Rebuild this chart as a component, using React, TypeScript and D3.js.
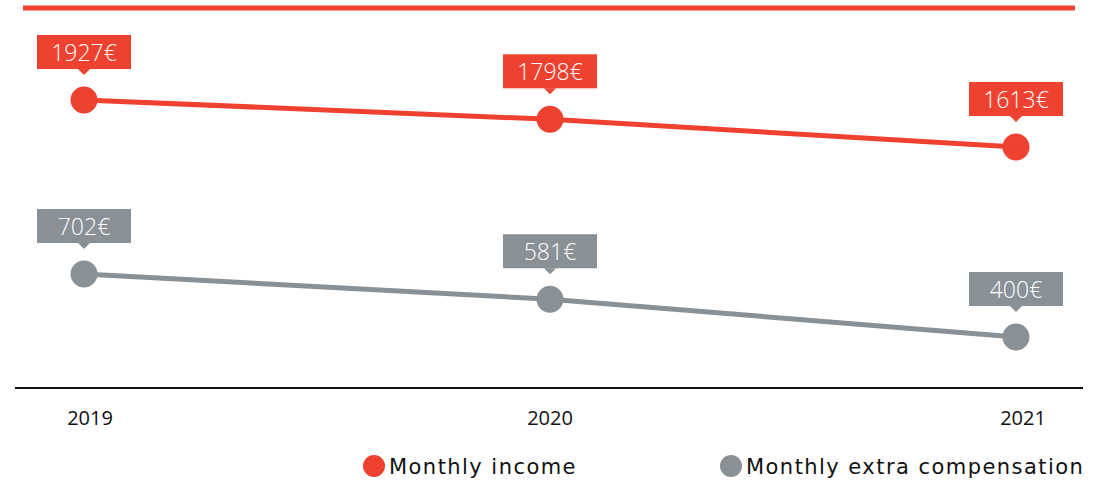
import React from "react";
import * as d3 from "d3";

const years = ["2019", "2020", "2021"];
const incomeValues = [1927, 1798, 1613];
const extraValues = [702, 581, 400];
const seriesNames = ["Monthly income", "Monthly extra compensation"];
const RED = "#EF4130";
const GRAY = "#899196";

const W = 1106;
const H = 480;

export default function App() {
  const x = d3.scalePoint<string>().domain(years).range([84, 1016]);
  const yIncome = d3.scaleLinear().domain([1613, 1927]).range([147, 100]);
  const yExtra = d3.scaleLinear().domain([400, 702]).range([337, 274]);

  const series = [
    { name: seriesNames[0], values: incomeValues, y: yIncome, color: RED },
    { name: seriesNames[1], values: extraValues, y: yExtra, color: GRAY },
  ];

  const boxW = 94;
  const boxH = 34;
  const gap = 31;

  return (
    <svg
      width={W}
      height={H}
      style={{ position: "absolute", left: 0, top: 0, display: "block" }}
      fontFamily="'Open Sans', sans-serif"
    >
      <rect x={0} y={0} width={W} height={H} fill="#fff" />
      <line x1={23} x2={1075} y1={8} y2={8} stroke={RED} strokeWidth={5} />
      <line x1={15} x2={1083} y1={388} y2={388} stroke="#111" strokeWidth={2.2} />
      {years.map((yr, i) => (
        <text
          key={yr}
          x={(x(yr) as number) + (i === 0 ? 6 : i === 2 ? 7 : 0)}
          y={425}
          textAnchor="middle"
          fontSize={20}
          fill="#111"
        >
          {yr}
        </text>
      ))}
      {series.map((s) => {
        const line = d3
          .line<number>()
          .x((_, i) => x(years[i]) as number)
          .y((v) => s.y(v));
        return (
          <g key={s.name}>
            <path d={line(s.values) || ""} fill="none" stroke={s.color} strokeWidth={5} />
            {s.values.map((v, i) => {
              const cx = x(years[i]) as number;
              const cy = s.y(v);
              const by = cy - gap - boxH;
              return (
                <g key={i}>
                  <circle cx={cx} cy={cy} r={13.5} fill={s.color} />
                  <rect x={cx - boxW / 2} y={by} width={boxW} height={boxH} fill={s.color} />
                  <path
                    d={`M${cx - 6},${by + boxH} L${cx + 6},${by + boxH} L${cx},${by + boxH + 6} Z`}
                    fill={s.color}
                  />
                  <text
                    x={cx}
                    y={by + boxH / 2 + 8.5}
                    textAnchor="middle"
                    fontSize={23}
                    fontWeight={300}
                    fill="#fff"
                  >
                    {v}€
                  </text>
                </g>
              );
            })}
          </g>
        );
      })}
      {series.map((s, i) => {
        const lx = i === 0 ? 374 : 731;
        return (
          <g key={"lg" + i}>
            <circle cx={lx} cy={466} r={11} fill={s.color} />
            <text
              x={lx + 15}
              y={474}
              fontSize={21}
              letterSpacing={1.45}
              fill="#111"
              fontFamily="'DejaVu Sans', sans-serif"
            >
              {s.name}
            </text>
          </g>
        );
      })}
    </svg>
  );
}
